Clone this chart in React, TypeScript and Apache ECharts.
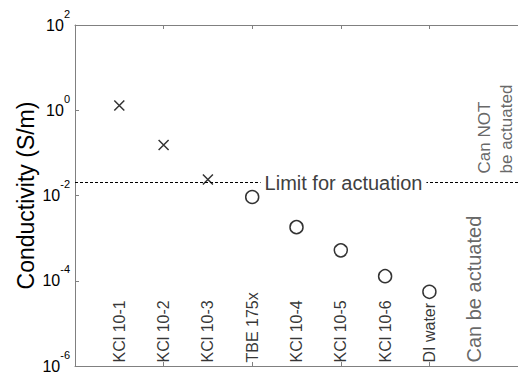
import React, { useEffect, useRef } from "react";
import * as echarts from "echarts";

const categories = ["KCl 10-1", "KCl 10-2", "KCl 10-3", "TBE 175x", "KCl 10-4", "KCl 10-5", "KCl 10-6", "DI water"];
const conductivity = [1.29, 0.153, 0.0238, 0.0092, 0.00181, 0.000516, 0.000128, 0.000055];
const actuationLimit = 0.0167;
const limitLabel = "Limit for actuation";
const zoneLabels = ["Can be actuated", "Can NOT\nbe actuated"];
const yMin = 1e-6;
const yMax = 1e2;

const FONT = "Arial, 'Liberation Sans', sans-serif";
const CROSS = "path://M0,0L10,10M10,0L0,10";

export default function App() {
  const ref = useRef<HTMLDivElement>(null);
  useEffect(() => {
    if (!ref.current) return;
    const chart = echarts.init(ref.current, null, { renderer: "svg" });
    const points = categories.map((c, i) => {
      const above = conductivity[i] > actuationLimit;
      return {
        name: c,
        value: [i + 1, conductivity[i]],
        symbol: above ? CROSS : "circle",
        symbolSize: above ? 10 : 13,
      };
    });
    const labelPoints = categories.map((c, i) => ({ name: c, value: [i + 1, yMin] }));
    const zoneX = categories.length + 1;
    const axisGray = "#808080";
    const xCommon = {
      type: "value" as const,
      min: 0,
      max: 10,
      interval: 2,
      axisLine: { show: true, lineStyle: { color: axisGray, width: 1 } },
      axisTick: { show: true, inside: true, length: 4, lineStyle: { color: axisGray } },
      axisLabel: { show: false },
      splitLine: { show: false },
    };
    chart.setOption({
      animation: false,
      grid: { left: 75, top: 25, right: -8, bottom: 6, containLabel: false },
      xAxis: [
        { ...xCommon, position: "bottom" },
        { ...xCommon, position: "top" },
      ],
      yAxis: [
        {
          type: "log",
          logBase: 10,
          min: yMin,
          max: yMax,
          interval: 2,
          splitNumber: 4,
          name: "Conductivity (S/m)",
          nameLocation: "middle",
          nameGap: 38,
          nameMoveOverlap: false,
          nameTextStyle: { fontSize: 23, color: "#000", fontFamily: FONT },
          axisLine: { show: true, lineStyle: { color: axisGray, width: 1 } },
          axisTick: { show: true, inside: true, length: 4, lineStyle: { color: axisGray } },
          minorTick: { show: false },
          splitLine: { show: false },
          axisLabel: {
            margin: 5,
            formatter: (v: number) => `{b|10}{s|${Math.round(Math.log10(v))}}`,
            rich: {
              b: { fontSize: 16, lineHeight: 34, color: "#000", fontFamily: FONT, verticalAlign: "middle" },
              s: { fontSize: 11, lineHeight: 11, color: "#000", fontFamily: FONT, verticalAlign: "top" },
            },
          },
        },
      ],
      series: [
        {
          type: "scatter",
          xAxisIndex: 0,
          yAxisIndex: 0,
          data: points,
          itemStyle: { color: "transparent", borderColor: "#000", borderWidth: 1.5 },
          markLine: {
            silent: true,
            symbol: "none",
            data: [{ yAxis: actuationLimit }],
            lineStyle: { type: [3, 2], color: "#000", width: 1 },
            label: {
              show: true,
              position: "middle",
              formatter: limitLabel,
              fontSize: 20,
              fontFamily: FONT,
              color: "#404040",
              backgroundColor: "#fff",
              padding: [0, 4],
              verticalAlign: "middle",
              distance: 0,
              offset: [47, 0],
            },
          },
        },
        {
          type: "scatter",
          data: labelPoints,
          symbolSize: 1,
          itemStyle: { color: "transparent" },
          label: {
            show: true,
            position: "top",
            distance: 3,
            rotate: 90,
            align: "left",
            verticalAlign: "middle",
            formatter: (p: any) => p.name,
            fontSize: 16,
            fontFamily: FONT,
            color: "#000",
          },
        },
        {
          type: "scatter",
          data: [
            { name: zoneLabels[0], value: [zoneX, yMin] },
          ],
          symbolSize: 1,
          itemStyle: { color: "transparent" },
          label: {
            show: true,
            position: "top",
            distance: 3,
            rotate: 90,
            align: "left",
            verticalAlign: "middle",
            formatter: (p: any) => p.name,
            fontSize: 20,
            fontFamily: FONT,
            color: "#404040",
          },
        },
        {
          type: "scatter",
          data: [
            { name: zoneLabels[1], value: [zoneX, actuationLimit] },
          ],
          symbolSize: 1,
          itemStyle: { color: "transparent" },
          labelLayout: { hideOverlap: false },
          label: {
            show: true,
            position: "top",
            distance: 12,
            rotate: 90,
            align: "left",
            verticalAlign: "top",
            formatter: (p: any) => p.name,
            fontSize: 17,
            lineHeight: 22,
            fontFamily: FONT,
            color: "#404040",
          },
        },
      ],
    });
    return () => chart.dispose();
  }, []);
  return (
    <div
      ref={ref}
      style={{ position: "fixed", left: 0, top: 0, width: 518, height: 374, background: "#fff" }}
    />
  );
}
